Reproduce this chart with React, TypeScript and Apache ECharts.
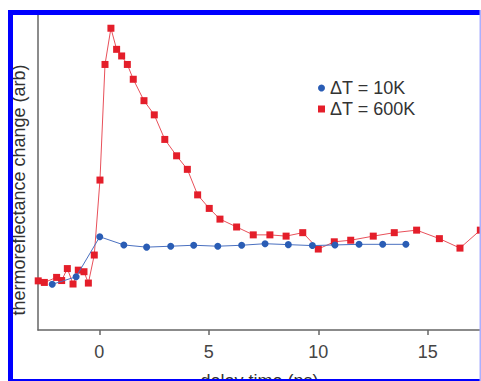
import React, { useEffect, useRef } from "react";
import * as echarts from "echarts";

const seriesNames = ["ΔT = 10K", "ΔT = 600K"];

const lowX = [-2.15, -1.06, 0.02, 1.12, 2.16, 3.26, 4.31, 5.41, 6.5, 7.57, 8.63, 9.73, 10.76, 11.86, 12.94, 14.0];
const lowY = [14.5, 16.9, 29.6, 27.0, 26.3, 26.6, 26.9, 26.6, 26.9, 27.4, 27.1, 26.8, 27.0, 27.2, 27.2, 27.2];

const highX = [-2.79, -2.51, -1.95, -1.72, -1.46, -1.2, -0.96, -0.7, -0.5, -0.23, 0.03, 0.26, 0.53, 0.79, 1.02, 1.28, 1.55, 2.04, 2.51, 2.99, 3.53, 4.02, 4.49, 5.02, 5.51, 6.27, 7.03, 7.79, 8.53, 9.29, 10.0, 10.73, 11.48, 12.51, 13.47, 14.49, 15.53, 16.47, 17.4];
const highY = [15.6, 15.1, 16.7, 15.7, 19.5, 14.6, 19.0, 18.5, 14.9, 23.8, 47.6, 84.3, 95.8, 89.1, 87.0, 84.3, 79.6, 72.8, 68.3, 60.5, 55.3, 51.0, 42.9, 38.6, 35.2, 32.7, 30.2, 30.2, 29.8, 30.9, 25.7, 28.0, 28.5, 29.8, 30.9, 31.7, 29.0, 26.0, 31.7];

const xTicks = [0, 5, 10, 15];

const FONT = "'Liberation Sans', Arial, sans-serif";

export default function App() {
  const ref = useRef<HTMLDivElement>(null);
  useEffect(() => {
    if (!ref.current) return;
    const chart = echarts.init(ref.current, null, { renderer: "svg" });
    chart.setOption({
      animation: false,
      backgroundColor: "#ffffff",
      textStyle: { fontFamily: FONT },
      grid: { left: 38, right: 0, top: 15, bottom: 51, containLabel: false, outerBoundsMode: "none" },
      legend: {
        orient: "vertical",
        left: 313,
        top: 74,
        itemWidth: 7,
        itemHeight: 7,
        itemGap: 3,
        textStyle: { fontSize: 18, color: "#333333", fontFamily: FONT },
        data: [
          { name: seriesNames[0], icon: "circle" },
          { name: seriesNames[1], icon: "rect" },
        ],
      },
      xAxis: {
        type: "value",
        min: -2.8,
        max: 17.43,
        splitLine: { show: false },
        axisLine: { show: true, onZero: false, lineStyle: { color: "#666666", width: 1.5 } },
        axisTick: { show: true, inside: false, length: 5, customValues: xTicks, lineStyle: { color: "#666666", width: 1.5 } },
        axisLabel: { customValues: xTicks, fontSize: 18, color: "#444444", margin: 13, fontFamily: FONT },
        name: "delay time (ps)",
        nameLocation: "middle",
        nameGap: 42,
        nameTextStyle: { fontSize: 18, color: "#333333", fontFamily: FONT },
      },
      yAxis: {
        type: "value",
        min: 0,
        max: 100,
        splitLine: { show: false },
        axisLine: { show: true, onZero: false, lineStyle: { color: "#666666", width: 1.5 } },
        axisTick: { show: false },
        axisLabel: { show: false },
        name: "thermoreflectance change (arb)",
        nameLocation: "middle",
        nameGap: 10,
        nameTextStyle: { fontSize: 18, color: "#333333", fontFamily: FONT, padding: [0, 35, 0, 0] },
      },
      series: [
        {
          name: seriesNames[0],
          type: "line",
          data: lowX.map((x, i) => [x, lowY[i]]),
          symbol: "circle",
          symbolSize: 7,
          itemStyle: { color: "#2a5db5" },
          lineStyle: { color: "#4a70c0", width: 1 },
          z: 3,
        },
        {
          name: seriesNames[1],
          type: "line",
          data: highX.map((x, i) => [x, highY[i]]),
          symbol: "rect",
          symbolSize: 7,
          itemStyle: { color: "#e41e2a" },
          lineStyle: { color: "#e8505a", width: 1 },
          z: 2,
        },
      ],
      graphic: [
        { type: "rect", z: 100, shape: { x: 8, y: 10, width: 473, height: 5 }, style: { fill: "#0000ff" } },
        { type: "rect", z: 100, shape: { x: 8, y: 10, width: 5, height: 371 }, style: { fill: "#0000ff" } },
        { type: "rect", z: 100, shape: { x: 8, y: 379, width: 473, height: 2 }, style: { fill: "#0000ff" } },
        { type: "rect", z: 100, shape: { x: 479.5, y: 10, width: 1.5, height: 371 }, style: { fill: "#aab0ff" } },
      ],
    });
    return () => chart.dispose();
  }, []);
  return (
    <div
      ref={ref}
      style={{ position: "absolute", left: 0, top: 0, width: 481, height: 381 }}
    />
  );
}
